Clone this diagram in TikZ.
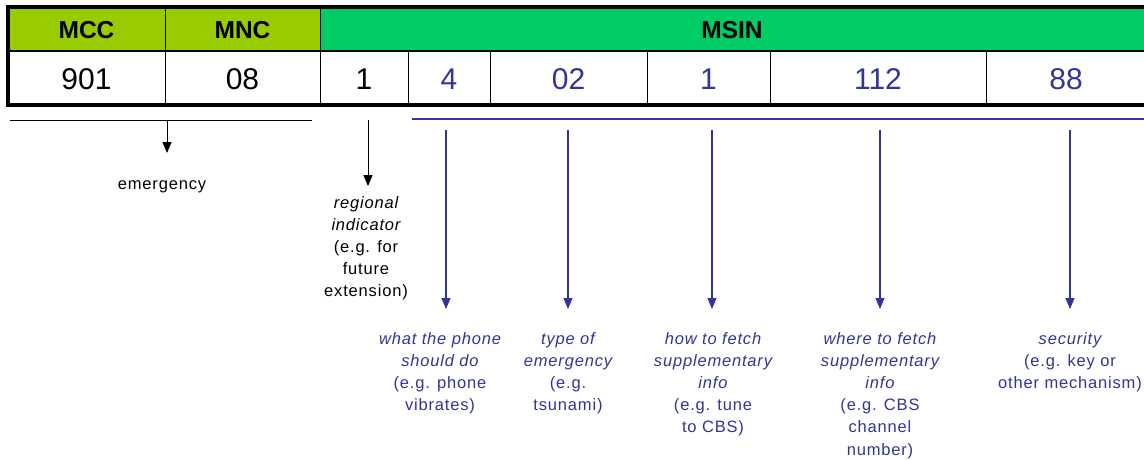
\documentclass[tikz,border=0pt]{standalone}
\usepackage{fontspec}
\setmainfont{Liberation Sans}
\usetikzlibrary{arrows.meta}
\definecolor{hdrA}{HTML}{99CC00}
\definecolor{hdrB}{HTML}{00CC66}
\definecolor{navy}{HTML}{333399}
\tikzset{
  hdr/.style={font=\fontsize{24.5}{28}\selectfont\bfseries, inner sep=0pt},
  val/.style={font=\fontsize{30}{34}\selectfont, inner sep=0pt},
  note/.style={font=\fontsize{16.5}{22.2}\selectfont\addfontfeatures{LetterSpace=5}, align=center, inner sep=0pt, anchor=north},
  arrk/.style={-{Triangle[width=9,length=11]}, line width=0.9pt, black},
  arrb/.style={-{Triangle[width=9,length=11]}, line width=1.1pt, navy},
}
\begin{document}
\begin{tikzpicture}[x=1pt,y=-1pt]
\useasboundingbox (0,0) rectangle (1144,459);
% header fills
\fill[hdrA] (8,7) rectangle (320,51);
\fill[hdrB] (320,7) rectangle (1152,51);
% inner grid
\draw[line width=0.9pt] (165,7) -- (165,105);
\draw[line width=0.9pt] (320,7) -- (320,105);
\foreach \x in {408,490,647,770,986} \draw[line width=0.9pt] (\x,51) -- (\x,105);
\draw[line width=2pt] (8,51) -- (1152,51);
\draw[line width=3.5pt] (8,7) rectangle (1152,105);
% header texts
\node[hdr] (mcc) at (86.5,30) {MCC};
\node[hdr] (mnc) at (242.5,30) {MNC};
\node[hdr] (msin) at (732,30) {MSIN};
% values
\node[val] (v1) at (86.5,79) {901};
\node[val] (v2) at (242.5,79) {08};
\node[val] (v3) at (364,79) {1};
\node[val, navy] (v4) at (449,79) {4};
\node[val, navy] (v5) at (568.5,79) {02};
\node[val, navy] (v6) at (708.5,79) {1};
\node[val, navy] (v7) at (878,79) {112};
\node[val, navy] (v8) at (1066,79) {88};
% brackets
\coordinate (kl) at (10,120);
\coordinate (kr) at (312,120);
\draw[line width=0.9pt] (kl) -- (kr);
\coordinate (bl) at (412,119);
\coordinate (br) at (1144,119);
\draw[navy, line width=1.1pt] (bl) -- (br);
% black notes
\node[note] (emerg) at (162,180) {emergency};
\coordinate (e0) at (167,120);
\coordinate (e1) at (167,153);
\draw[arrk] (e0) -- (e1);
\node[note] (reg) at (366,196) {\itshape regional\\\itshape indicator\\(e.g. for\\future\\extension)};
\coordinate (r0) at (368,120);
\coordinate (r1) at (368,186);
\draw[arrk] (r0) -- (r1);
% blue notes
\begin{scope}[navy]
\node[note] (n1) at (440,332) {\itshape what the phone\\\itshape should do\\(e.g. phone\\vibrates)};
\node[note] (n2) at (568,332) {\itshape type of\\\itshape emergency\\(e.g.\\tsunami)};
\node[note] (n3) at (713,332) {\itshape how to fetch\\\itshape supplementary\\\itshape info\\(e.g. tune\\to CBS)};
\node[note] (n4) at (880,332) {\itshape where to fetch\\\itshape supplementary\\\itshape info\\(e.g. CBS\\channel\\number)};
\node[note] (n5) at (1070,332) {\itshape security\\(e.g. key or\\other mechanism)};
\end{scope}
\foreach \i/\x in {1/446,2/568,3/712,4/880,5/1070}{
  \coordinate (a\i) at (\x,130);
  \coordinate (b\i) at (\x,309);
  \draw[arrb] (a\i) -- (b\i);
}
\end{tikzpicture}
\end{document}
